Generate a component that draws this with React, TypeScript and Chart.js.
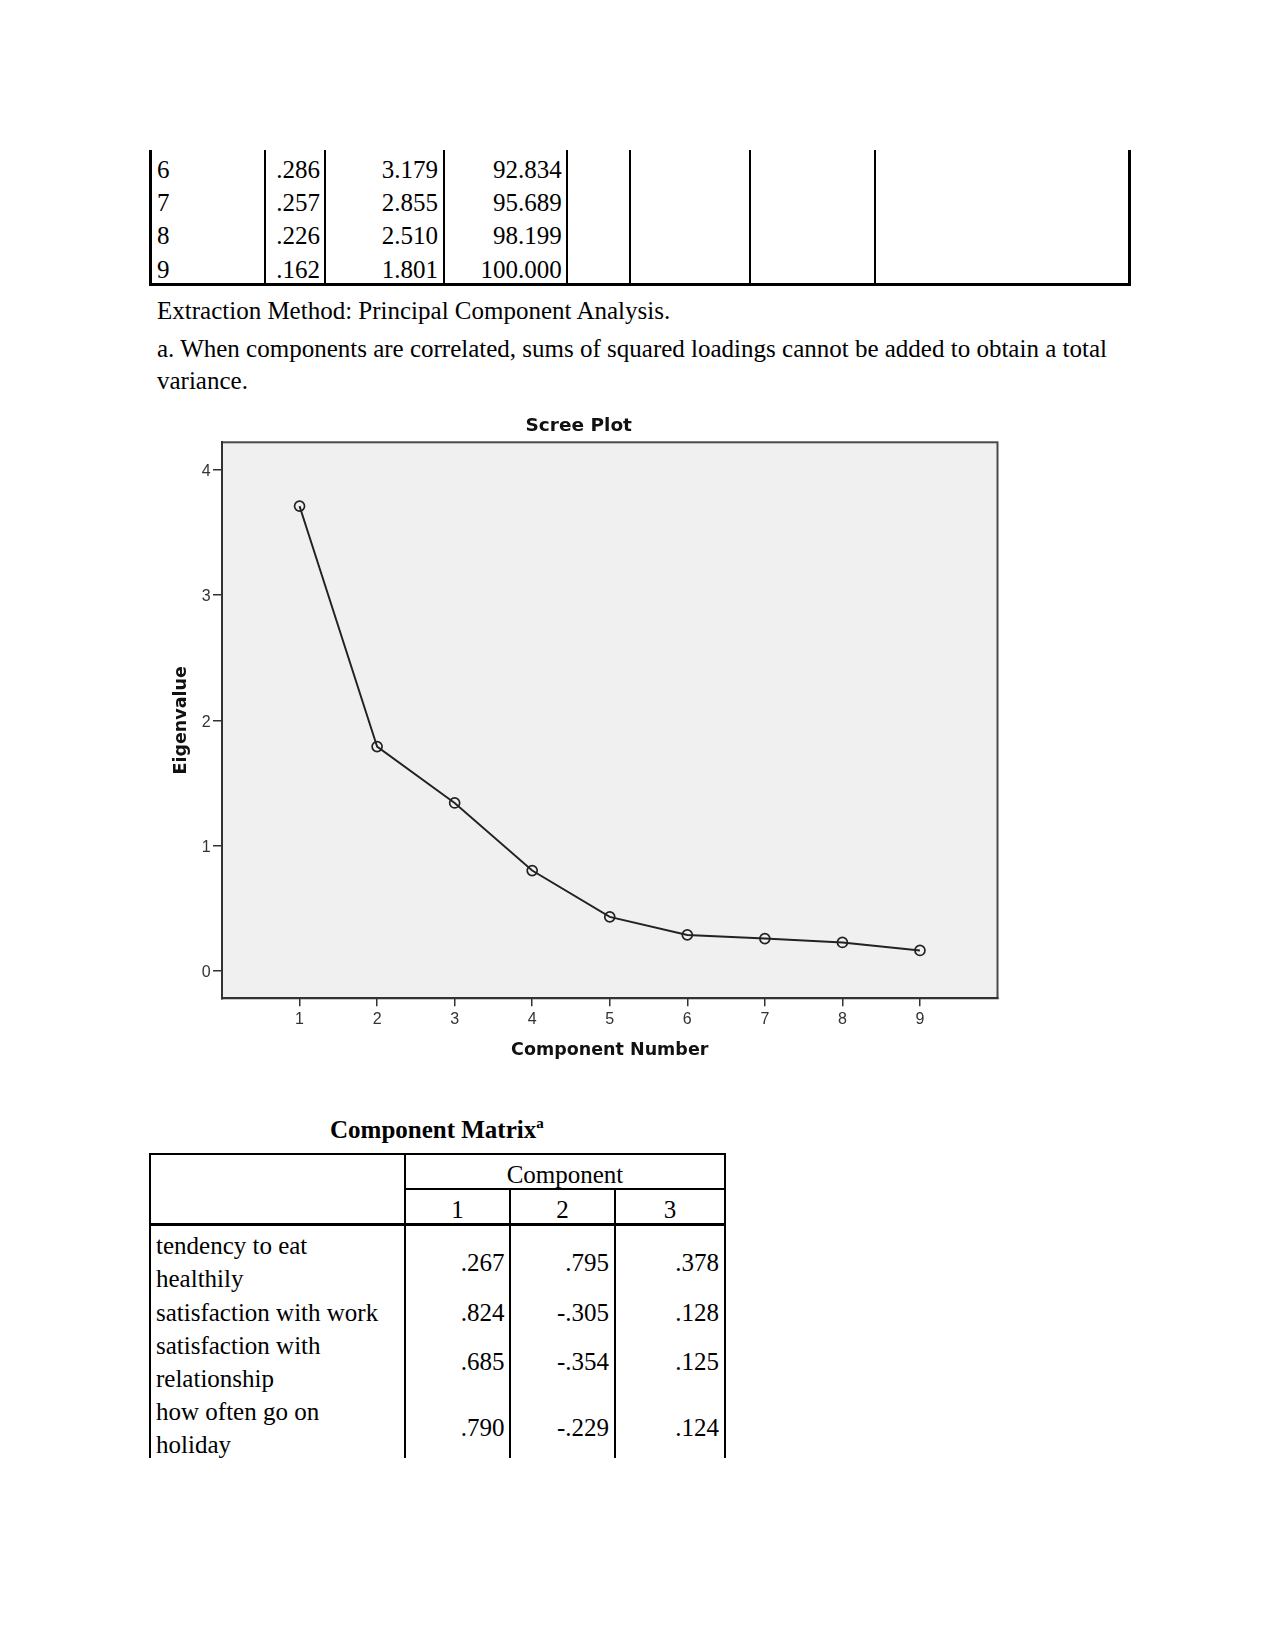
import React, { useEffect, useRef } from "react";
import { Chart, registerables } from "chart.js";

Chart.register(...registerables);

// ---- Scree plot data ----
const components = [1, 2, 3, 4, 5, 6, 7, 8, 9];
const eigenvalues = [3.71, 1.79, 1.34, 0.8, 0.43, 0.286, 0.257, 0.226, 0.162];
const yTickValues = [0, 1, 2, 3, 4];

// ---- Total variance table (continued rows) ----
const varRows = ["6", "7", "8", "9"];
const varTotals = [".286", ".257", ".226", ".162"];
const varPercents = ["3.179", "2.855", "2.510", "1.801"];
const varCumulative = ["92.834", "95.689", "98.199", "100.000"];

// ---- Component matrix ----
const matrixVars = [
  ["tendency to eat", "healthily"],
  ["satisfaction with work"],
  ["satisfaction with", "relationship"],
  ["how often go on", "holiday"],
];
const comp1 = [".267", ".824", ".685", ".790"];
const comp2 = [".795", "-.305", "-.354", "-.229"];
const comp3 = [".378", ".128", ".125", ".124"];

const SERIF = '"Liberation Serif", "Times New Roman", serif';
const FS = 25;
const LH = 34;
const baseOff = (LH - FS * (0.891 + 0.216)) / 2 + FS * 0.891;

function Txt({ x, y, align = "left", bold = false, children }: any) {
  const w = 1000;
  const left = align === "left" ? x : align === "right" ? x - w : x - w / 2;
  return (
    <div
      style={{
        position: "absolute",
        left,
        top: y - baseOff,
        width: w,
        height: LH,
        lineHeight: LH + "px",
        fontFamily: SERIF,
        fontSize: FS,
        fontWeight: bold ? "bold" : "normal",
        textAlign: align,
        whiteSpace: "nowrap",
        color: "#000",
      }}
    >
      {children}
    </div>
  );
}

function HL({ x1, x2, y, w = 2 }: any) {
  return (
    <div style={{ position: "absolute", left: x1, top: y - w / 2, width: x2 - x1, height: w, background: "#000" }} />
  );
}
function VL({ x, y1, y2, w = 2 }: any) {
  return (
    <div style={{ position: "absolute", left: x - w / 2, top: y1, width: w, height: y2 - y1, background: "#000" }} />
  );
}

function ScreePlot() {
  const ref = useRef<HTMLCanvasElement>(null);
  useEffect(() => {
    const canvas = ref.current!;
    const framePlugin = {
      id: "plotFrame",
      beforeDraw(chart: any) {
        const { ctx, chartArea: a } = chart;
        ctx.save();
        ctx.fillStyle = "#f0f0f0";
        ctx.fillRect(a.left, a.top, a.right - a.left, a.bottom - a.top);
        ctx.strokeStyle = "#4a4a4a";
        ctx.lineWidth = 2;
        ctx.strokeRect(a.left, a.top, a.right - a.left, a.bottom - a.top);
        ctx.restore();
      },
    };
    const tickFont = { family: '"Liberation Sans", Arial, sans-serif', size: 16, lineHeight: 1.2 };
    const titleFont = { family: '"DejaVu Sans", sans-serif', size: 17.5, weight: "bold" as const, lineHeight: 1.2 };
    const chart = new Chart(canvas, {
      type: "scatter",
      data: {
        datasets: [
          {
            data: components.map((c, i) => ({ x: c, y: eigenvalues[i] })),
            showLine: true,
            borderColor: "#222",
            borderWidth: 1.9,
            pointRadius: 5,
            pointHoverRadius: 5,
            pointBorderWidth: 1.7,
            pointBackgroundColor: "rgba(0,0,0,0)",
            pointBorderColor: "#222",
          },
        ],
      },
      options: {
        animation: false,
        responsive: false,
        devicePixelRatio: 1,
        layout: { padding: { left: 0, right: 22.5, top: 0, bottom: 0 } },
        plugins: {
          legend: { display: false },
          tooltip: { enabled: false },
          title: {
            display: true,
            text: "Scree Plot",
            color: "#111",
            font: { family: '"DejaVu Sans", sans-serif', size: 18.5, weight: "bold", lineHeight: 1.2 },
            padding: { top: 24.7, bottom: 5.4 },
          },
        },
        scales: {
          x: {
            type: "linear",
            min: 0,
            max: 10,
            afterBuildTicks: (s: any) => {
              s.ticks = components.map((v) => ({ value: v }));
            },
            afterFit: (s: any) => {
              s.height = 81.7;
            },
            ticks: { color: "#333", font: tickFont, padding: 3.6, maxRotation: 0, minRotation: 0, autoSkip: false },
            grid: { drawOnChartArea: false, drawTicks: true, tickLength: 8, color: "#333", lineWidth: 1.5 },
            border: { display: true, color: "#333", width: 2 },
            title: {
              display: true,
              text: "Component Number",
              color: "#111",
              font: titleFont,
              padding: { top: 0, bottom: 19.5 },
            },
          },
          y: {
            type: "linear",
            min: -0.22,
            max: 4.22,
            afterBuildTicks: (s: any) => {
              s.ticks = yTickValues.map((v) => ({ value: v }));
            },
            afterFit: (s: any) => {
              s.width = 62;
            },
            ticks: { color: "#333", font: tickFont, padding: 2.3, labelOffset: 2, autoSkip: false },
            grid: { drawOnChartArea: false, drawTicks: true, tickLength: 9, color: "#333", lineWidth: 1.5 },
            border: { display: true, color: "#333", width: 2 },
            title: {
              display: true,
              text: "Eigenvalue",
              color: "#111",
              font: titleFont,
              padding: { top: 10.5, bottom: 0 },
            },
          },
        },
      } as any,
      plugins: [framePlugin],
    });
    return () => chart.destroy();
  }, []);
  return (
    <canvas
      ref={ref}
      width={860}
      height={690}
      style={{ position: "absolute", left: 160, top: 390, width: 860, height: 690 }}
    />
  );
}

export default function App() {
  const topCols = [264.5, 325.2, 443.8, 567, 629.5, 750.3, 875];
  const rowBase = [178.3, 211.5, 244.7, 278];
  const lineBase = [1254.8, 1287.9, 1321, 1354.1, 1387.2, 1420.3, 1453.4];
  // first line index of each matrix row
  const rowStart = [0, 2, 3, 5];

  return (
    <div style={{ position: "absolute", left: 0, top: 0, width: 1275, height: 1651, background: "#fff" }}>
      {/* Top table (continued) */}
      <VL x={150.5} y1={150} y2={285.7} w={3} />
      {topCols.map((x) => (
        <VL key={x} x={x} y1={150} y2={285} w={2} />
      ))}
      <VL x={1129} y1={150} y2={285.7} w={3} />
      <HL x1={149} x2={1130.5} y={284.2} w={3} />
      {varRows.map((r, i) => (
        <React.Fragment key={r}>
          <Txt x={157} y={rowBase[i]}>{r}</Txt>
          <Txt x={320} y={rowBase[i]} align="right">{varTotals[i]}</Txt>
          <Txt x={438} y={rowBase[i]} align="right">{varPercents[i]}</Txt>
          <Txt x={561.7} y={rowBase[i]} align="right">{varCumulative[i]}</Txt>
        </React.Fragment>
      ))}

      {/* Footnotes */}
      <Txt x={157} y={319.3}>Extraction Method: Principal Component Analysis.</Txt>
      <Txt x={157} y={357}>
        a. When components are correlated, sums of squared loadings cannot be added to obtain a total
      </Txt>
      <Txt x={157} y={389}>variance.</Txt>

      {/* Scree plot */}
      <ScreePlot />

      {/* Component Matrix */}
      <Txt x={330} y={1138} bold>
        Component Matrix
        <span style={{ fontSize: 15, position: "relative", top: -10 }}>a</span>
      </Txt>
      <HL x1={149} x2={726} y={1154.3} w={2} />
      <VL x={150} y1={1153.3} y2={1458} w={2} />
      <VL x={725} y1={1153.3} y2={1458} w={2} />
      <VL x={405} y1={1154} y2={1458} w={2} />
      <VL x={510} y1={1189} y2={1458} w={2} />
      <VL x={615} y1={1189} y2={1458} w={2} />
      <HL x1={405} x2={725} y={1189.2} w={1.7} />
      <HL x1={150} x2={725} y={1224.5} w={2.2} />
      <Txt x={565} y={1183.2} align="center">Component</Txt>
      <Txt x={457.5} y={1218.5} align="center">1</Txt>
      <Txt x={562.5} y={1218.5} align="center">2</Txt>
      <Txt x={670} y={1218.5} align="center">3</Txt>
      {matrixVars.map((lines, i) => {
        const start = rowStart[i];
        const valBase = lines.length === 2 ? (lineBase[start] + lineBase[start + 1]) / 2 : lineBase[start];
        return (
          <React.Fragment key={i}>
            {lines.map((t, j) => (
              <Txt key={j} x={156} y={lineBase[start + j]}>{t}</Txt>
            ))}
            <Txt x={504.5} y={valBase} align="right">{comp1[i]}</Txt>
            <Txt x={609} y={valBase} align="right">{comp2[i]}</Txt>
            <Txt x={719} y={valBase} align="right">{comp3[i]}</Txt>
          </React.Fragment>
        );
      })}
    </div>
  );
}
